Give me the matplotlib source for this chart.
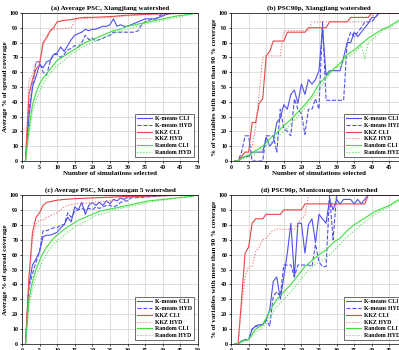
import matplotlib
matplotlib.use("Agg")
import matplotlib.pyplot as plt

plt.rcParams['font.family'] = ['Liberation Serif', 'DejaVu Serif']
plt.rcParams['font.weight'] = 'bold'

labels = ['K-means CLI', 'K-means HYD', 'KKZ CLI', 'KKZ HYD', 'Random CLI', 'Random HYD']
titles = ['(a) Average PSC, Xiangjiang watershed', '(b) PSC90p, Xiangjiang watershed',
          '(c) Average PSC, Manicouagan 5 watershed', '(d) PSC90p, Manicouagan 5 watershed']
ylabels = ['Average % of spread coverage', '% of variables with more than 90 % coverage']
xlabel = 'Number of simulations selected'
xticks = [0, 5, 10, 15, 20, 25, 30, 35, 40, 45, 50]
yticks = [0, 10, 20, 30, 40, 50, 60, 70, 80, 90, 100]

# ---- (a) average PSC, Xiangjiang
a_km_cli_x = list(range(1, 43)) + [50]
a_km_cli_y = [0, 30, 50, 57, 65, 63, 67, 68, 72, 73, 77, 74, 78, 82, 85, 86, 87, 89, 88, 89,
              89, 90, 91, 91, 92, 96, 91, 92, 91, 91, 92, 93, 94, 95, 96, 96, 96, 96, 97, 98,
              99, 99.5, 100]
a_km_hyd_x = list(range(1, 42)) + [50]
a_km_hyd_y = [0, 35, 50, 67, 67, 60, 58, 67, 72, 72, 70, 72, 75, 76, 78, 77, 80, 85, 82, 83,
              81, 82, 83, 84, 85, 87, 87, 87, 87, 87, 87, 87, 88, 92, 94, 95, 96, 96, 98, 99,
              99.5, 100]
a_kkz_cli_x = [1, 2, 3, 4, 5, 6, 7, 8, 9, 10, 12, 14, 15, 16, 18, 20, 25, 30, 35, 40, 45, 50]
a_kkz_cli_y = [0, 45, 55, 62, 65, 80, 83, 88, 90, 94, 95, 95.5, 96, 96.5, 97, 97, 97.5, 98.5,
               99, 99.5, 99.8, 100]
a_kkz_hyd_x = [1, 2, 3, 4, 5, 6, 7, 8, 9, 10, 12, 14, 15, 16, 20, 25, 30, 35, 40, 45, 50]
a_kkz_hyd_y = [0, 55, 58, 67, 67, 78, 85, 87, 89, 89, 89.5, 90, 95, 96, 96.5, 97, 98, 99,
               99.5, 99.8, 100]
a_rnd_cli_x = [1, 2, 3, 4, 5, 6, 7, 8, 9, 10, 12, 14, 16, 18, 20, 22, 24, 26, 28, 30, 32, 34,
               36, 38, 40, 42, 44, 46, 48, 50]
a_rnd_cli_y = [0, 22, 38, 46, 52, 56, 59, 62, 65, 68, 71, 74, 77, 80, 82, 84, 86, 88, 89, 91,
               92, 93, 94, 95, 96, 97, 98, 98.5, 99.3, 100]
a_rnd_hyd_x = a_rnd_cli_x
a_rnd_hyd_y = [0, 18, 33, 41, 47, 52, 56, 59, 62, 64, 68, 72, 75, 78, 80, 82, 84, 86, 87.5, 89,
               90.5, 92, 93, 94, 95, 96, 97, 98, 99, 100]

# ---- (b) PSC90p, Xiangjiang
b_km_cli_x = list(range(1, 43)) + [50]
b_km_cli_y = [0, 0, 2, 3, 3, 6, 6, 6, 6, 16, 10, 13, 26, 29, 38, 35, 45, 48, 39, 52,
              45, 55, 52, 55, 61, 90, 58, 61, 61, 61, 61, 70, 80, 80, 87, 84, 87, 90, 93, 97,
              97, 100, 100]
b_km_hyd_x = list(range(1, 43)) + [50]
b_km_hyd_y = [0, 0, 6, 17, 17, 0, 0, 0, 0, 17, 17, 17, 6, 35, 22, 20, 17, 42, 35, 32,
              18, 35, 35, 42, 35, 94, 41, 41, 41, 41, 41, 41, 80, 87, 84, 87, 90, 94, 94, 94,
              97, 100, 100]
b_kkz_cli_x = [1, 2, 3, 4, 5, 6, 7, 8, 9, 10, 11, 12, 15, 16, 21, 22, 27, 28, 33, 34, 39, 40, 50]
b_kkz_cli_y = [0, 0, 3, 6, 6, 26, 26, 39, 42, 71, 74, 81, 81, 87, 87, 90, 90, 94, 94, 97, 97,
               100, 100]
b_kkz_hyd_x = [1, 2, 3, 4, 5, 6, 7, 8, 9, 10, 14, 15, 22, 23, 39, 40, 41, 50]
b_kkz_hyd_y = [0, 0, 3, 6, 6, 10, 23, 45, 70, 71, 71, 88, 88, 94, 94, 97, 100, 100]
b_rnd_cli_x = [1, 2, 3, 5, 7, 9, 11, 13, 15, 17, 19, 21, 23, 25, 27, 29, 31, 33, 35, 37, 39,
               41, 43, 45, 47, 49, 50]
b_rnd_cli_y = [0, 0, 2, 4, 7, 10, 15, 19, 24, 28, 33, 38, 44, 52, 57, 62, 66, 72, 75, 79, 83,
               86, 89, 91, 94, 97, 98]
b_rnd_hyd_x = [1, 3, 5, 7, 9, 11, 13, 15, 17, 19, 21, 23, 25, 27, 29, 31, 33, 35, 37, 38, 39,
               41, 43, 45, 47, 49, 50]
b_rnd_hyd_y = [0, 1, 3, 5, 8, 12, 16, 20, 25, 30, 36, 42, 48, 55, 62, 64, 70, 73, 78, 69, 80,
               84, 88, 90, 93, 96, 97]

# ---- (c) average PSC, Manicouagan 5
c_km_cli_x = list(range(1, 32)) + [35, 38, 40, 50]
c_km_cli_y = [0, 40, 53, 57, 62, 72, 73, 73, 74, 75, 78, 80, 85, 82, 92, 90, 95, 87, 93, 95,
              93, 95, 93, 96, 94, 97, 96, 98, 97, 98.5, 99, 99, 99.5, 100, 100]
c_km_hyd_x = list(range(1, 32)) + [35, 40, 50]
c_km_hyd_y = [0, 38, 47, 55, 62, 76, 76, 77, 78, 78, 80, 80, 88, 85, 89, 90, 91, 90, 91, 90,
              92, 91, 92, 93, 93, 92, 93, 95, 96, 96, 98, 98.5, 99.5, 100]
c_kkz_cli_x = [1, 2, 3, 4, 5, 6, 7, 8, 9, 10, 12, 15, 20, 25, 30, 40, 50]
c_kkz_cli_y = [0, 45, 75, 85, 88, 93, 95, 95.5, 96, 96.5, 97, 97.5, 98, 98.5, 99, 99.5, 100]
c_kkz_hyd_x = [1, 2, 3, 4, 5, 6, 7, 8, 9, 10, 11, 12, 13, 15, 18, 20, 25, 30, 35, 40, 50]
c_kkz_hyd_y = [0, 40, 70, 80, 83, 83, 85, 86, 87, 88, 90, 92, 93, 94, 94.5, 95, 96, 98, 99,
               99.5, 100]
c_rnd_cli_x = [1, 2, 3, 4, 5, 6, 7, 8, 9, 10, 12, 14, 16, 18, 20, 22, 24, 26, 28, 30, 32, 34,
               36, 38, 40, 42, 44, 46, 48, 50]
c_rnd_cli_y = [0, 30, 42, 50, 56, 61, 65, 68, 71, 73, 77, 80, 83, 85, 87, 89, 90, 91, 92, 93,
               94, 95, 96, 96.5, 97, 97.5, 98, 98.5, 99, 100]
c_rnd_hyd_x = c_rnd_cli_x
c_rnd_hyd_y = [0, 25, 37, 45, 51, 56, 60, 64, 67, 69, 73, 77, 80, 82, 85, 87, 88, 90, 91, 92,
               93, 94, 95, 96, 96.5, 97, 98, 98.5, 99, 100]

# ---- (d) PSC90p, Manicouagan 5
d_km_cli_x = list(range(1, 41)) + [50]
d_km_cli_y = [0, 0, 2, 3, 3, 10, 12, 13, 13, 16, 23, 42, 45, 30, 45, 61, 81, 45, 81, 81,
              61, 80, 84, 68, 87, 84, 81, 97, 90, 97, 94, 97, 97, 97, 94, 97, 94, 97, 100, 100,
              100]
d_km_hyd_x = list(range(1, 31)) + [40, 50]
d_km_hyd_y = [0, 0, 2, 3, 3, 10, 12, 12, 13, 16, 12, 32, 35, 32, 53, 53, 53, 45, 53, 53,
              53, 53, 52, 67, 55, 52, 52, 100, 70, 100, 100, 100]
d_kkz_cli_x = [1, 2, 3, 4, 5, 6, 7, 9, 10, 14, 15, 20, 21, 38, 39, 50]
d_kkz_cli_y = [0, 0, 30, 61, 65, 81, 84, 84, 87, 87, 90, 90, 94, 94, 100, 100]
d_kkz_hyd_x = [1, 2, 3, 4, 5, 6, 7, 8, 9, 10, 11, 12, 13, 18, 19, 20, 21, 22, 50]
d_kkz_hyd_y = [0, 0, 25, 45, 52, 52, 62, 65, 70, 71, 74, 76, 77, 77, 81, 84, 86, 100, 100]
d_rnd_cli_x = [1, 2, 3, 5, 7, 9, 11, 13, 15, 17, 19, 21, 23, 25, 27, 29, 31, 33, 35, 37, 39,
               41, 43, 45, 47, 49, 50]
d_rnd_cli_y = [0, 0, 2, 3, 10, 13, 22, 30, 35, 40, 46, 52, 56, 60, 63, 68, 71, 76, 80, 83, 86,
               89, 91, 93, 96, 98, 98]
d_rnd_hyd_x = [1, 3, 5, 7, 9, 11, 13, 15, 17, 19, 21, 23, 25, 27, 29, 31, 33, 35, 37, 39, 41,
               43, 45, 47, 49, 50]
d_rnd_hyd_y = [0, 1, 3, 8, 11, 18, 25, 30, 35, 41, 47, 52, 55, 58, 62, 67, 72, 76, 80, 84, 87,
               90, 92, 95, 97, 98]

panels = [
    [(a_km_cli_x, a_km_cli_y), (a_km_hyd_x, a_km_hyd_y), (a_kkz_cli_x, a_kkz_cli_y),
     (a_kkz_hyd_x, a_kkz_hyd_y), (a_rnd_cli_x, a_rnd_cli_y), (a_rnd_hyd_x, a_rnd_hyd_y)],
    [(b_km_cli_x, b_km_cli_y), (b_km_hyd_x, b_km_hyd_y), (b_kkz_cli_x, b_kkz_cli_y),
     (b_kkz_hyd_x, b_kkz_hyd_y), (b_rnd_cli_x, b_rnd_cli_y), (b_rnd_hyd_x, b_rnd_hyd_y)],
    [(c_km_cli_x, c_km_cli_y), (c_km_hyd_x, c_km_hyd_y), (c_kkz_cli_x, c_kkz_cli_y),
     (c_kkz_hyd_x, c_kkz_hyd_y), (c_rnd_cli_x, c_rnd_cli_y), (c_rnd_hyd_x, c_rnd_hyd_y)],
    [(d_km_cli_x, d_km_cli_y), (d_km_hyd_x, d_km_hyd_y), (d_kkz_cli_x, d_kkz_cli_y),
     (d_kkz_hyd_x, d_kkz_hyd_y), (d_rnd_cli_x, d_rnd_cli_y), (d_rnd_hyd_x, d_rnd_hyd_y)],
]

colors = ['#5050ee', '#5050ee', '#e84545', '#f07070', '#40dd40', '#50e050']
styles = ['-', '--', '-', ':', '-', ':']

fig = plt.figure(figsize=(3.99, 3.5), dpi=100)
# axes positions (the right column runs past the right edge, as in the original crop)
positions = [[0.055, 0.540, 0.441, 0.423], [0.579, 0.540, 0.441, 0.423],
             [0.055, 0.017, 0.441, 0.426], [0.579, 0.017, 0.441, 0.426]]

for i, series in enumerate(panels):
    ax = fig.add_axes(positions[i])
    for j, (xs, ys) in enumerate(series):
        ax.plot(xs, ys, color=colors[j], linestyle=styles[j], linewidth=0.8, label=labels[j])
    ax.set_xlim(0, 50)
    ax.set_ylim(0, 100)
    ax.set_xticks(xticks)
    ax.set_yticks(yticks)
    ax.grid(True, color='#d8d8d8', linewidth=0.6)
    ax.set_axisbelow(True)
    ax.tick_params(labelsize=4.3, length=1.5, width=0.5, pad=1.2)
    for s in ax.spines.values():
        s.set_linewidth(0.5)
    ax.set_title(titles[i], fontsize=5, fontweight='bold', pad=2.5)
    ax.set_ylabel(ylabels[i % 2], fontsize=5, fontweight='bold', labelpad=1)
    ax.set_xlabel(xlabel, fontsize=5, fontweight='bold', labelpad=1)
    leg = ax.legend(loc='lower right', fontsize=4.2, frameon=True, fancybox=False,
                    edgecolor='black', handlelength=2.6, borderpad=0.3, labelspacing=0.3,
                    handletextpad=0.5, borderaxespad=0.7)
    leg.get_frame().set_linewidth(0.5)

fig.savefig('out.png', dpi=100)
